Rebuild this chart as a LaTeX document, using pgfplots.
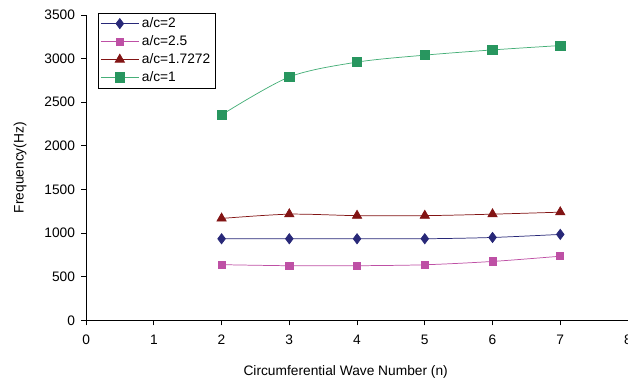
\documentclass[border=0pt]{standalone}
\usepackage{pgfplots}
\pgfplotsset{compat=1.18}
\usepackage{fontspec}
\setmainfont{Liberation Sans}
\definecolor{cblue}{RGB}{40,40,120}
\definecolor{cpink}{RGB}{190,80,165}
\definecolor{cred}{RGB}{130,20,20}
\definecolor{cgreen}{RGB}{40,150,95}
\definecolor{cgreenl}{RGB}{70,175,120}
\begin{document}
\begin{tikzpicture}[trim axis right]
\begin{axis}[
  scale only axis,
  width=406pt, height=228.75pt,
  xmin=0, xmax=8, ymin=0, ymax=3500,
  xtick={0,...,8}, ytick={0,500,...,3500},
  axis x line=bottom, axis y line=left,
  axis line style={-, line width=0.6pt, black},
  tick style={black, line width=0.6pt},
  tick align=outside,
  major tick length=3.8pt,
  font=\fontsize{10.3}{12}\selectfont,
  /pgf/number format/assume math mode=true,
  /pgf/number format/1000 sep={},
  xlabel={Circumferential Wave Number (n)},
  ylabel={Frequency(Hz)},
  xlabel style={at={(axis description cs:0.479,0)}, anchor=center, yshift=-39pt},
  ylabel style={at={(axis description cs:0,0.5)}, anchor=center, yshift=49.5pt},
  xticklabel style={yshift=-3.5pt},
  yticklabel style={xshift=-1pt},
  legend style={at={(0.022,1.008)}, anchor=north west, draw=black, line width=0.6pt,
    font=\fontsize{10.3}{12}\selectfont, row sep=0.5pt, inner xsep=1.5pt, inner ysep=1.5pt,
    /tikz/every even column/.append style={column sep=1pt}},
  legend cell align=left,
  legend image code/.code={
    \draw[mark repeat=2,mark phase=2] plot coordinates {(0pt,0pt) (14.25pt,0pt) (28.5pt,0pt)};
  },
  clip=false,
]
\addplot[cblue, line width=0.55pt, smooth, tension=0.5, mark=diamond*, mark size=3.8pt, mark options={fill=cblue, draw=cblue}]
  coordinates {(2,935) (3,935) (4,935) (5,935) (6,950) (7,985)};
\addlegendentry{a/c=2}
\addplot[cpink, line width=0.55pt, smooth, tension=0.5, mark=square*, mark size=2.7pt, mark options={fill=cpink, draw=cpink}]
  coordinates {(2,638) (3,626) (4,626) (5,637) (6,675) (7,735)};
\addlegendentry{a/c=2.5}
\addplot[cred, line width=0.55pt, smooth, tension=0.5, mark=triangle*, mark size=4pt, mark options={fill=cred, draw=cred}]
  coordinates {(2,1168) (3,1217) (4,1200) (5,1200) (6,1217) (7,1240)};
\addlegendentry{a/c=1.7272}
\addplot[cgreenl, line width=0.55pt, smooth, tension=0.5, mark=square*, mark size=3.5pt, mark options={fill=cgreen, draw=cgreen}]
  coordinates {(2,2355) (3,2790) (4,2960) (5,3040) (6,3100) (7,3150)};
\addlegendentry{a/c=1}
\end{axis}
\path ([xshift=-64.5pt,yshift=-47.25pt]current axis.south west) -- ([xshift=-64.5pt,yshift=11.25pt]current axis.north west);
\end{tikzpicture}
\end{document}
